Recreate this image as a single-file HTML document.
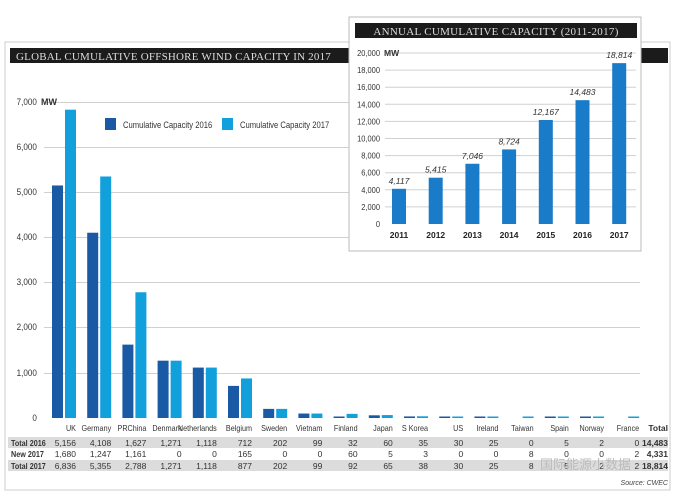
<!DOCTYPE html>
<html><head><meta charset="utf-8"><style>
body{margin:0;background:#fff;width:677px;height:497px;overflow:hidden}
svg{display:block}
text{font-family:"Liberation Sans",sans-serif}
</style></head><body>
<svg width="677" height="497" viewBox="0 0 677 497" xmlns="http://www.w3.org/2000/svg">
<rect x="5" y="42" width="665" height="448" fill="#fff" stroke="#ccc" stroke-width="1"/>
<rect x="10" y="48" width="658" height="15" fill="#1b1b1b"/>
<text x="16" y="60" fill="#ddd" font-size="11" letter-spacing="0.2" style="font-family:'Liberation Serif',serif">GLOBAL CUMULATIVE OFFSHORE WIND CAPACITY IN 2017</text>
<g stroke="#d0d0d0" stroke-width="1">
<line x1="44" y1="102.5" x2="640" y2="102.5"/><line x1="44" y1="147.5" x2="640" y2="147.5"/>
<line x1="44" y1="192.5" x2="640" y2="192.5"/><line x1="44" y1="237.5" x2="640" y2="237.5"/>
<line x1="44" y1="282.5" x2="640" y2="282.5"/><line x1="44" y1="327.5" x2="640" y2="327.5"/>
<line x1="44" y1="373.5" x2="640" y2="373.5"/>
</g>
<g font-size="9" fill="#333" text-anchor="end" transform="scale(0.9,1)">
<text x="41" y="105">7,000</text><text x="41" y="150">6,000</text><text x="41" y="195">5,000</text><text x="41" y="240">4,000</text><text x="41" y="285">3,000</text><text x="41" y="330">2,000</text><text x="41" y="376">1,000</text><text x="41" y="421">0</text>
</g>
<text x="41" y="105" font-size="9" font-weight="bold" fill="#333">MW</text>
<rect x="105" y="118" width="11" height="12" fill="#1a5aa5"/>
<text x="123" y="128" font-size="9" fill="#333" transform="translate(123,0) scale(0.85,1) translate(-123,0)">Cumulative Capacity 2016</text>
<rect x="222" y="118" width="11" height="12" fill="#12a0dd"/>
<text x="240" y="128" font-size="9" fill="#333" transform="translate(240,0) scale(0.85,1) translate(-240,0)">Cumulative Capacity 2017</text>
<g id="bars"></g>
<rect x="8" y="437" width="660" height="11" fill="#dcdcdc"/>
<rect x="8" y="460" width="660" height="11" fill="#dcdcdc"/>
<g id="tbl" font-size="8.5" fill="#333"></g>
<text x="668" y="485" font-size="7" font-style="italic" fill="#444" text-anchor="end">Source: CWEC</text>
<text x="540" y="469" font-size="13" fill="#bbb" style="font-family:'Noto Sans CJK SC',sans-serif">国际能源小数据</text>
<rect x="349" y="17" width="292" height="234" fill="#fff" stroke="#bbb"/>
<rect x="355" y="23" width="282" height="15" fill="#1b1b1b"/>
<text x="496" y="35" fill="#ddd" font-size="11" text-anchor="middle" style="font-family:'Liberation Serif',serif" letter-spacing="0.3">ANNUAL CUMULATIVE CAPACITY (2011-2017)</text>
<g id="inset"></g>
</svg>
<script>
var ns="http://www.w3.org/2000/svg";
function el(p,t,a,tx){var e=document.createElementNS(ns,t);for(var k in a)e.setAttribute(k,a[k]);if(tx!=null)e.textContent=tx;p.appendChild(e);return e;}
var names=["UK","Germany","PRChina","Denmark","Netherlands","Belgium","Sweden","Vietnam","Finland","Japan","S Korea","US","Ireland","Taiwan","Spain","Norway","France"];
var t16=[5156,4108,1627,1271,1118,712,202,99,32,60,35,30,25,0,5,2,0];
var n17=[1680,1247,1161,0,0,165,0,0,60,5,3,0,0,8,0,0,2];
var t17=[6836,5355,2788,1271,1118,877,202,99,92,65,38,30,25,8,5,2,2];
var b=document.getElementById("bars"),tb=document.getElementById("tbl");
function f(n){return n.toLocaleString("en-US");}
for(var i=0;i<17;i++){
 var x=52+i*35.2;
 var h1=t16[i]*0.0451,h2=t17[i]*0.0451;
 if(t16[i]>0)el(b,"rect",{x:x,y:418-Math.max(h1,1.5),width:11,height:Math.max(h1,1.5),fill:"#1a5aa5"});
 el(b,"rect",{x:x+13,y:418-Math.max(h2,1.5),width:11,height:Math.max(h2,1.5),fill:"#12a0dd"});
 var rx=x+24;
 el(tb,"text",{x:rx,y:431,"text-anchor":"end",transform:"translate("+rx+",0) scale(0.85,1) translate("+(-rx)+",0)"},names[i]);
 el(tb,"text",{x:rx,y:446,"text-anchor":"end"},f(t16[i]));
 el(tb,"text",{x:rx,y:457,"text-anchor":"end"},f(n17[i]));
 el(tb,"text",{x:rx,y:469,"text-anchor":"end"},f(t17[i]));
}
el(tb,"text",{x:668,y:431,"text-anchor":"end","font-weight":"bold"},"Total");
el(tb,"text",{x:668,y:446,"text-anchor":"end","font-weight":"bold"},"14,483");
el(tb,"text",{x:668,y:457,"text-anchor":"end","font-weight":"bold"},"4,331");
el(tb,"text",{x:668,y:469,"text-anchor":"end","font-weight":"bold"},"18,814");
[["Total 2016",446],["New 2017",457],["Total 2017",469]].forEach(function(r){el(tb,"text",{x:11,y:r[1],"font-weight":"bold",transform:"translate(11,0) scale(0.85,1) translate(-11,0)"},r[0]);});
var g=document.getElementById("inset");
for(var v=0;v<=20000;v+=2000){var y=224-v*0.00855;
 if(v>0)el(g,"line",{x1:385,y1:y,x2:636,y2:y,stroke:"#d0d0d0"});
 el(g,"text",{x:380,y:y+3,"text-anchor":"end","font-size":"8.5",fill:"#333",transform:"translate(380,0) scale(0.88,1) translate(-380,0)"},f(v));}
el(g,"text",{x:384,y:56,"font-size":"8.5","font-weight":"bold",fill:"#333"},"MW");
var yv=[4117,5415,7046,8724,12167,14483,18814];
for(var i=0;i<7;i++){var cx=399+i*36.7,h=yv[i]*0.00855;
 el(g,"rect",{x:cx-7,y:224-h,width:14,height:h,fill:"#1a7cc9"});
 el(g,"text",{x:cx,y:224-h-5,"text-anchor":"middle","font-size":"8.5","font-style":"italic",fill:"#333"},f(yv[i]));
 el(g,"text",{x:cx,y:238,"text-anchor":"middle","font-size":"8.5","font-weight":"bold",fill:"#222"},2011+i);}
</script>
</body></html>
